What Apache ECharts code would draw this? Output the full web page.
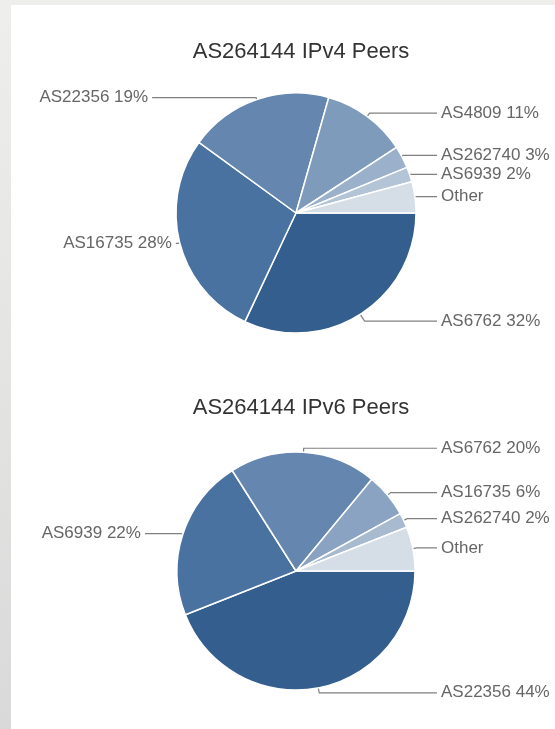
<!DOCTYPE html>
<html>
<head>
<meta charset="utf-8">
<script src="https://cdn.jsdelivr.net/npm/echarts@6/dist/echarts.min.js"></script>
<style>
  html, body { margin: 0; padding: 0; }
  body { width: 555px; height: 729px; position: relative; overflow: hidden;
         background: linear-gradient(to bottom, #eeeeec 0%, #e4e4e3 50%, #d9d9d9 100%); }
  #panel { position: absolute; left: 11px; top: 5px; right: 0; bottom: 0; background: #ffffff; }
  #chart { position: absolute; left: 0; top: 0; width: 555px; height: 729px; }
</style>
</head>
<body>
<div id="panel"></div>
<div id="chart"></div>
<script>
// ---- data ----
const titles = ['AS264144 IPv4 Peers', 'AS264144 IPv6 Peers'];

const ipv4Names  = ['AS6762', 'AS16735', 'AS22356', 'AS4809', 'AS262740', 'AS6939', 'Other'];
const ipv4Values = [32, 28, 19.4, 11.4, 3, 2, 4.2];

const ipv6Names  = ['AS22356', 'AS6939', 'AS6762', 'AS16735', 'AS262740', 'Other'];
const ipv6Values = [44, 22, 20, 6, 2, 6];

// ---- styling ----
const palette4 = ['#335e8e', '#4a72a0', '#6587af', '#7f9bbc', '#9bb0ca', '#b4c4d7', '#d5dde7'];
const palette6 = ['#335e8e', '#4a72a0', '#6587af', '#8aa3c2', '#a8bad0', '#d5dde7'];
// leader-line overrides per slice (style only): [radial length, horizontal length]
const leaders4 = { 'AS22356': [2, 104], 'AS16735': [2, 2], 'AS6762': [8, 18] };
const leaders6 = { 'AS6939': [2, 36], 'AS22356': [5, 18] };
const rightColumnX = 441;   // x where right-hand labels start
const labelGap = 4;

function buildData(names, values, colors, leaders) {
  return names.map((n, i) => {
    const item = { name: n, value: values[i], itemStyle: { color: colors[i] } };
    if (leaders[n] !== undefined) {
      item.labelLine = { length: leaders[n][0], length2: leaders[n][1] };
    }
    return item;
  });
}

function fmt(p) {
  return p.name === 'Other' ? 'Other' : p.name + ' ' + Math.round(p.percent) + '%';
}

function rightAlign(params) {
  if (params.align !== 'left' || !params.labelLinePoints) return {};
  const pts = params.labelLinePoints;
  const p1 = pts[1];
  return {
    x: rightColumnX,
    align: 'left',
    labelLinePoints: [pts[0], p1, [rightColumnX - labelGap, p1[1]]]
  };
}

const labelStyle = {
  show: true,
  position: 'outside',
  formatter: fmt,
  color: '#666666',
  fontSize: 17,
  fontFamily: 'Liberation Sans, Arial, sans-serif',
  lineHeight: 14,
  alignTo: 'none',
  bleedMargin: 0,
  distanceToLabelLine: labelGap
};

const titleText = { fontSize: 22, fontWeight: 'normal', color: '#333333', fontFamily: 'Liberation Sans, Arial, sans-serif' };

const chart = echarts.init(document.getElementById('chart'), null, { renderer: 'canvas' });
chart.setOption({
  backgroundColor: 'transparent',
  animation: false,
  title: [
    { text: titles[0], left: 296, top: 36, textAlign: 'center', textStyle: titleText },
    { text: titles[1], left: 296, top: 392, textAlign: 'center', textStyle: titleText }
  ],
  series: [
    {
      type: 'pie',
      center: [296, 213],
      radius: 120,
      startAngle: 0,
      clockwise: true,
      avoidLabelOverlap: true,
      itemStyle: { borderColor: '#ffffff', borderWidth: 1.5 },
      label: labelStyle,
      labelLine: { show: true, length: 4, length2: 18, smooth: false,
                   lineStyle: { color: '#808080', width: 1.2 } },
      labelLayout: rightAlign,
      emphasis: { disabled: true },
      data: buildData(ipv4Names, ipv4Values, palette4, leaders4)
    },
    {
      type: 'pie',
      center: [296, 571],
      radius: 119,
      startAngle: 0,
      clockwise: true,
      avoidLabelOverlap: true,
      itemStyle: { borderColor: '#ffffff', borderWidth: 1.5 },
      label: labelStyle,
      labelLine: { show: true, length: 4, length2: 18, smooth: false,
                   lineStyle: { color: '#808080', width: 1.2 } },
      labelLayout: rightAlign,
      emphasis: { disabled: true },
      data: buildData(ipv6Names, ipv6Values, palette6, leaders6)
    }
  ]
});
</script>
</body>
</html>
